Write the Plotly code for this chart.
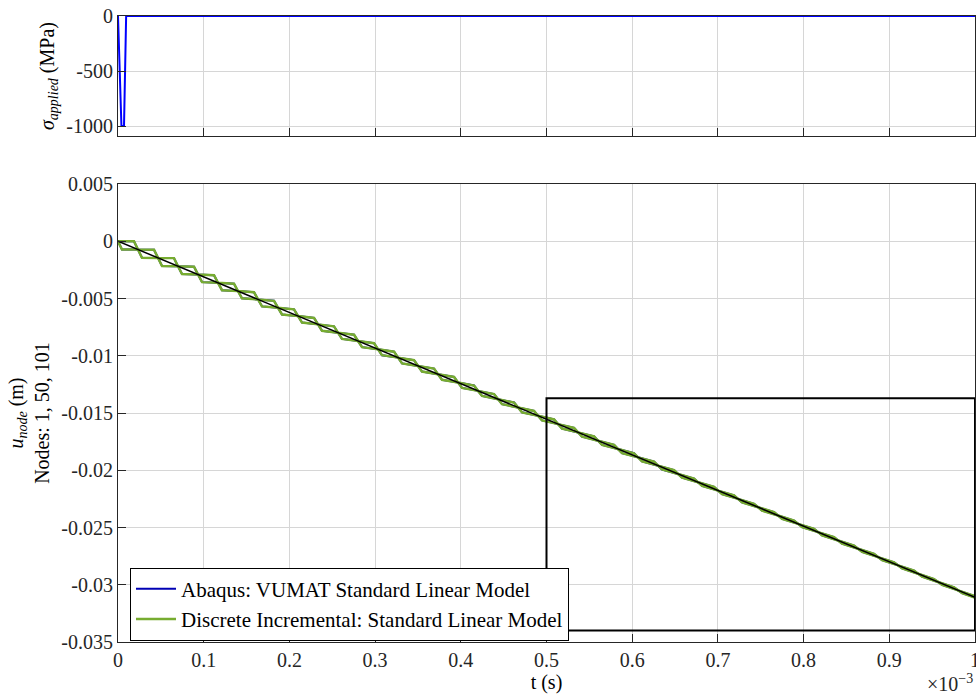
import plotly.graph_objects as go

# ---- applied stress pulse (time in units of 1e-3 s) ----
t_sigma = [0.0, 0.004, 0.007, 0.0095, 1.0]
sigma_applied = [0.0, -1000.0, -1000.0, 0.0, 0.0]

# ---- nodal displacement ----
# mean displacement line (node 50)
t_mean = [0.0, 1.0]
u_mean = [0.0, -0.0311]

# wave-reflection times at which the end nodes cross the mean line
t_cross = [0.0, 0.0233, 0.0467, 0.0700, 0.0934, 0.1167, 0.1400, 0.1634, 0.1867,
           0.2101, 0.2334, 0.2567, 0.2801, 0.3034, 0.3268, 0.3501, 0.3734, 0.3968,
           0.4201, 0.4435, 0.4668, 0.4901, 0.5135, 0.5368, 0.5602, 0.5835, 0.6068,
           0.6302, 0.6535, 0.6769, 0.7002, 0.7235, 0.7469, 0.7702, 0.7936, 0.8169,
           0.8402, 0.8636, 0.8869, 0.9103, 0.9336, 0.9569, 0.9803, 1.0036]

# peak deviation of the end nodes from the mean line in each interval (m)
u_dev = [5.8e-4, 5.7e-4, 5.6e-4, 5.4e-4, 5.2e-4, 5.0e-4, 4.8e-4, 4.6e-4, 4.4e-4,
         4.2e-4, 4.1e-4, 4.0e-4, 3.9e-4, 3.7e-4, 3.6e-4, 3.5e-4, 3.4e-4, 3.2e-4,
         3.0e-4, 2.9e-4, 2.8e-4, 2.6e-4, 2.4e-4, 2.3e-4, 2.2e-4, 2.1e-4, 2.0e-4,
         1.9e-4, 1.8e-4, 1.7e-4, 1.6e-4, 1.55e-4, 1.5e-4, 1.45e-4, 1.4e-4, 1.35e-4,
         1.3e-4, 1.25e-4, 1.2e-4, 1.15e-4, 1.1e-4, 1.05e-4, 1.0e-4]

x_ticks = [0, 0.1, 0.2, 0.3, 0.4, 0.5, 0.6, 0.7, 0.8, 0.9, 1.0]
x_ticklabels = ["0", "0.1", "0.2", "0.3", "0.4", "0.5", "0.6", "0.7", "0.8", "0.9", "1"]
y1_ticks = [-1000, -500, 0]
y1_ticklabels = ["-1000", "-500", "0"]
y2_ticks = [-0.035, -0.03, -0.025, -0.02, -0.015, -0.01, -0.005, 0, 0.005]
y2_ticklabels = ["-0.035", "-0.03", "-0.025", "-0.02", "-0.015", "-0.01", "-0.005", "0", "0.005"]

# zoom window drawn on the displacement axes
box_t = [0.5, 1.0]
box_u = [-0.0340, -0.0137]

slope = (u_mean[1] - u_mean[0]) / (t_mean[1] - t_mean[0])


def mean_at(t):
    return u_mean[0] + slope * t


# staircase paths of the two end nodes, built from the crossing times
t_end1, u_end1, t_end2, u_end2 = [], [], [], []
for k, dev in enumerate(u_dev):
    ta, tb = t_cross[k], t_cross[k + 1]
    dt = tb - ta
    # node that lags: holds, then drops back onto the mean
    t_end1 += [ta, ta + 0.80 * dt]
    u_end1 += [mean_at(ta), mean_at(ta + 0.80 * dt) + dev]
    # node that leads: drops first, then holds
    t_end2 += [ta, ta + 0.20 * dt]
    u_end2 += [mean_at(ta), mean_at(ta + 0.20 * dt) - dev]
t_end1.append(t_cross[-1]); u_end1.append(mean_at(t_cross[-1]))
t_end2.append(t_cross[-1]); u_end2.append(mean_at(t_cross[-1]))

ABAQUS = "#0000b4"
DISCRETE = "#77ac30"
FONT = "Liberation Serif"
FS = 20

fig = go.Figure()

fig.add_trace(go.Scatter(x=t_sigma, y=sigma_applied, mode="lines",
                         line=dict(color="#0000ff", width=2),
                         xaxis="x", yaxis="y", showlegend=False))

# Abaqus solution (coincides with the discrete one)
for i, (tt, uu) in enumerate([(t_end1, u_end1), (t_end2, u_end2)]):
    fig.add_trace(go.Scatter(x=tt, y=uu, mode="lines",
                             line=dict(color=ABAQUS, width=2),
                             name="Abaqus: VUMAT Standard Linear Model",
                             legendgroup="abaqus", showlegend=(i == 0),
                             xaxis="x2", yaxis="y2"))
for i, (tt, uu) in enumerate([(t_end1, u_end1), (t_end2, u_end2)]):
    fig.add_trace(go.Scatter(x=tt, y=uu, mode="lines",
                             line=dict(color=DISCRETE, width=2.5),
                             name="Discrete Incremental: Standard Linear Model",
                             legendgroup="discrete", showlegend=(i == 0),
                             xaxis="x2", yaxis="y2"))
fig.add_trace(go.Scatter(x=t_mean, y=u_mean, mode="lines",
                         line=dict(color="black", width=1.5),
                         showlegend=False, xaxis="x2", yaxis="y2"))

fig.add_shape(type="rect", xref="x2", yref="y2",
              x0=box_t[0], x1=box_t[1], y0=box_u[0], y1=box_u[1],
              line=dict(color="black", width=2))

axis_common = dict(
    showline=True, linecolor="#262626", linewidth=1, mirror=True,
    ticks="inside", ticklen=8, tickcolor="#262626", tickwidth=1,
    showgrid=True, gridcolor="#d6d6d6", gridwidth=1, zeroline=False,
    tickfont=dict(family=FONT, size=FS, color="#262626"),
    ticklabeloverflow="allow", automargin=False,
)

fig.update_layout(
    width=976, height=695,
    margin=dict(l=118, r=1, t=16, b=53, autoexpand=False),
    paper_bgcolor="white", plot_bgcolor="white",
    font=dict(family=FONT, size=FS, color="black"),
    xaxis=dict(domain=[0, 1], range=[0, 1], tickvals=x_ticks,
               ticktext=[""] * len(x_ticks), anchor="y", **axis_common),
    yaxis=dict(domain=[0.8083, 1.0], range=[-1090, 0], tickvals=y1_ticks,
               ticktext=y1_ticklabels, anchor="x",
               title=dict(text="<i>σ</i><sub><i>applied</i></sub> (MPa)",
                          font=dict(family=FONT, size=FS), standoff=6),
               **axis_common),
    xaxis2=dict(domain=[0, 1], range=[0, 1], tickvals=x_ticks,
                ticktext=x_ticklabels, anchor="y2",
                title=dict(text="t (s)", font=dict(family=FONT, size=FS), standoff=4),
                **axis_common),
    yaxis2=dict(domain=[0, 0.7316], range=[-0.035, 0.005], tickvals=y2_ticks,
                ticktext=y2_ticklabels, anchor="x2",
                title=dict(text="<i>u</i><sub><i>node</i></sub> (m)<br>Nodes: 1, 50, 101",
                           font=dict(family=FONT, size=FS), standoff=6),
                **axis_common),
    legend=dict(x=0.014, y=0.0607, xanchor="left", yanchor="middle",
                bgcolor="white", bordercolor="black", borderwidth=1,
                font=dict(family=FONT, size=21, color="black"),
                tracegroupgap=0, itemwidth=40),
    annotations=[dict(text="×10<sup>−3</sup>", xref="paper", yref="paper",
                      x=1.0, y=-0.066, xanchor="right", yanchor="middle",
                      showarrow=False, font=dict(family=FONT, size=FS, color="#262626"))],
)

fig.write_html("out.html")
